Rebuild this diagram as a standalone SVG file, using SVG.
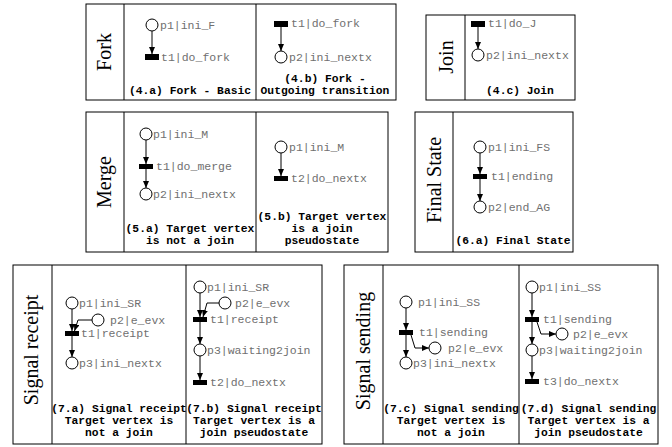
<svg xmlns="http://www.w3.org/2000/svg" width="672" height="447" viewBox="0 0 672 447">
<defs>
<marker id="ah" markerWidth="7" markerHeight="6" refX="7" refY="3" orient="auto" markerUnits="userSpaceOnUse"><path d="M0,0 L7,3 L0,6 z" fill="#000"/></marker>
<style>
.box{fill:#fff;stroke:#000;stroke-width:1}
.div{stroke:#000;stroke-width:1}
.pl{fill:#fff;stroke:#000;stroke-width:1}
.tr{fill:#000}
.lb{font-family:"Liberation Mono",monospace;font-size:11.5px;fill:#707070}
.cap{font-family:"Liberation Mono",monospace;font-size:11.3px;font-weight:bold;fill:#000;text-anchor:middle}
.cat{font-family:"Liberation Serif",serif;font-size:20px;fill:#000;text-anchor:middle}
.arc{fill:none;stroke:#000;stroke-width:1;marker-end:url(#ah)}
</style>
</defs>
<rect width="672" height="447" fill="#fff"/>

<g id="box-fork">
<rect class="box" x="86" y="4" width="310" height="96"/>
<line class="div" x1="124" y1="4" x2="124" y2="100"/>
<line class="div" x1="256" y1="4" x2="256" y2="100"/>
<text class="cat" transform="translate(104,52) rotate(-90)" y="7">Fork</text>
<text class="cap" x="190" y="94">(4.a) Fork - Basic</text>
<text class="cap" x="325" y="82">(4.b) Fork -</text>
<text class="cap" x="325" y="94">Outgoing transition</text>
</g>
<g id="box-join">
<rect class="box" x="426" y="15" width="149" height="85"/>
<line class="div" x1="465" y1="15" x2="465" y2="100"/>
<text class="cat" transform="translate(446,57) rotate(-90)" y="7">Join</text>
<text class="cap" x="520" y="94">(4.c) Join</text>
</g>
<g id="box-merge">
<rect class="box" x="86" y="112" width="302" height="140"/>
<line class="div" x1="124" y1="112" x2="124" y2="252"/>
<line class="div" x1="256" y1="112" x2="256" y2="252"/>
<text class="cat" transform="translate(104,182) rotate(-90)" y="7">Merge</text>
<text class="cap" x="190" y="232">(5.a) Target vertex</text>
<text class="cap" x="190" y="244">is not a join</text>
<text class="cap" x="322" y="220">(5.b) Target vertex</text>
<text class="cap" x="322" y="232">is a join</text>
<text class="cap" x="322" y="244">pseudostate</text>
</g>
<g id="box-final">
<rect class="box" x="415" y="112" width="158" height="140"/>
<line class="div" x1="453" y1="112" x2="453" y2="252"/>
<text class="cat" transform="translate(434,180) rotate(-90)" y="7">Final State</text>
<text class="cap" x="513" y="244">(6.a) Final State</text>
</g>
<g id="box-receipt">
<rect class="box" x="13" y="265" width="309" height="179"/>
<line class="div" x1="52" y1="265" x2="52" y2="444"/>
<line class="div" x1="186" y1="265" x2="186" y2="444"/>
<text class="cat" transform="translate(31,350) rotate(-90)" y="7">Signal receipt</text>
<text class="cap" x="119" y="412">(7.a) Signal receipt</text>
<text class="cap" x="119" y="424">Target vertex is</text>
<text class="cap" x="119" y="436">not a join</text>
<text class="cap" x="254" y="412">(7.b) Signal receipt</text>
<text class="cap" x="254" y="424">Target vertex is a</text>
<text class="cap" x="254" y="436">join pseudostate</text>
</g>
<g id="box-sending">
<rect class="box" x="344" y="265" width="314" height="179"/>
<line class="div" x1="383" y1="265" x2="383" y2="444"/>
<line class="div" x1="519" y1="265" x2="519" y2="444"/>
<text class="cat" transform="translate(363,351) rotate(-90)" y="7">Signal sending</text>
<text class="cap" x="451" y="412">(7.c) Signal sending</text>
<text class="cap" x="451" y="424">Target vertex is</text>
<text class="cap" x="451" y="436">not a join</text>
<text class="cap" x="588.5" y="412">(7.d) Signal sending</text>
<text class="cap" x="588.5" y="424">Target vertex is a</text>
<text class="cap" x="588.5" y="436">join pseudostate</text>
</g>

<g id="connectors">
<path class="arc" d="M152 31 V54"/>
<path class="arc" d="M281 27 V51"/>
<path class="arc" d="M478 27 V49"/>
<path class="arc" d="M146 140 V164"/>
<path class="arc" d="M146 169 V188"/>
<path class="arc" d="M281 153 V176"/>
<path class="arc" d="M480 153 V174"/>
<path class="arc" d="M480 179 V201"/>
<path class="arc" d="M72 309 V331"/>
<path class="arc" d="M92 320 H78 L74.5 331"/>
<path class="arc" d="M72 336 V357"/>
<path class="arc" d="M200 293 V317"/>
<path class="arc" d="M219 303 H207 L203 317"/>
<path class="arc" d="M200 322 V344"/>
<path class="arc" d="M200 356 V380"/>
<path class="arc" d="M406 308 V330"/>
<path class="arc" d="M406 335 V357"/>
<path class="arc" d="M411 335 L415 348 H429"/>
<path class="arc" d="M532 293 V317"/>
<path class="arc" d="M532 322 V344"/>
<path class="arc" d="M537 322 L541 334 H556"/>
<path class="arc" d="M532 356 V379"/>
</g>

<g id="n4a-p1"><circle class="pl" cx="152" cy="25" r="6"/><text class="lb" x="160" y="29">p1|ini_F</text></g>
<g id="n4a-t1"><rect class="tr" x="145" y="54" width="14" height="6"/><text class="lb" x="161" y="60.5">t1|do_fork</text></g>
<g id="n4b-t1"><rect class="tr" x="274" y="21" width="14" height="6"/><text class="lb" x="291" y="27">t1|do_fork</text></g>
<g id="n4b-p2"><circle class="pl" cx="281" cy="57" r="6"/><text class="lb" x="289" y="61">p2|ini_nextx</text></g>
<g id="n4c-t1"><rect class="tr" x="471" y="21" width="14" height="6"/><text class="lb" x="488" y="27">t1|do_J</text></g>
<g id="n4c-p2"><circle class="pl" cx="478" cy="55" r="6"/><text class="lb" x="486" y="59">p2|ini_nextx</text></g>

<g id="n5a-p1"><circle class="pl" cx="146" cy="134" r="6"/><text class="lb" x="153" y="138">p1|ini_M</text></g>
<g id="n5a-t1"><rect class="tr" x="139" y="164" width="14" height="5"/><text class="lb" x="156" y="169.5">t1|do_merge</text></g>
<g id="n5a-p2"><circle class="pl" cx="146" cy="194" r="6"/><text class="lb" x="153" y="198">p2|ini_nextx</text></g>
<g id="n5b-p1"><circle class="pl" cx="281" cy="147" r="6"/><text class="lb" x="289" y="151">p1|ini_M</text></g>
<g id="n5b-t2"><rect class="tr" x="274" y="176" width="14" height="5"/><text class="lb" x="291" y="182">t2|do_nextx</text></g>

<g id="n6a-p1"><circle class="pl" cx="480" cy="147" r="6"/><text class="lb" x="488" y="151">p1|ini_FS</text></g>
<g id="n6a-t1"><rect class="tr" x="473" y="174" width="14" height="5"/><text class="lb" x="491" y="180">t1|ending</text></g>
<g id="n6a-p2"><circle class="pl" cx="480" cy="207" r="6"/><text class="lb" x="488" y="211">p2|end_AG</text></g>

<g id="n7a-p1"><circle class="pl" cx="72" cy="303" r="6"/><text class="lb" x="79" y="307">p1|ini_SR</text></g>
<g id="n7a-p2"><circle class="pl" cx="98" cy="320" r="6"/><text class="lb" x="110" y="324">p2|e_evx</text></g>
<g id="n7a-t1"><rect class="tr" x="65" y="331" width="14" height="5"/><text class="lb" x="81" y="337">t1|receipt</text></g>
<g id="n7a-p3"><circle class="pl" cx="72" cy="363" r="6"/><text class="lb" x="79" y="367">p3|ini_nextx</text></g>

<g id="n7b-p1"><circle class="pl" cx="200" cy="287" r="6"/><text class="lb" x="207" y="291">p1|ini_SR</text></g>
<g id="n7b-p2"><circle class="pl" cx="225" cy="303" r="6"/><text class="lb" x="235" y="307">p2|e_evx</text></g>
<g id="n7b-t1"><rect class="tr" x="193" y="317" width="14" height="5"/><text class="lb" x="210" y="323">t1|receipt</text></g>
<g id="n7b-p3"><circle class="pl" cx="200" cy="350" r="6"/><text class="lb" x="207" y="354">p3|waiting2join</text></g>
<g id="n7b-t2"><rect class="tr" x="193" y="380" width="14" height="5"/><text class="lb" x="210" y="386">t2|do_nextx</text></g>

<g id="n7c-p1"><circle class="pl" cx="406" cy="302" r="6"/><text class="lb" x="418" y="306">p1|ini_SS</text></g>
<g id="n7c-t1"><rect class="tr" x="399" y="330" width="14" height="5"/><text class="lb" x="419" y="336">t1|sending</text></g>
<g id="n7c-p2"><circle class="pl" cx="435" cy="348" r="6"/><text class="lb" x="448" y="352">p2|e_evx</text></g>
<g id="n7c-p3"><circle class="pl" cx="406" cy="363" r="6"/><text class="lb" x="413" y="367">p3|ini_nextx</text></g>

<g id="n7d-p1"><circle class="pl" cx="532" cy="287" r="6"/><text class="lb" x="539" y="291">p1|ini_SS</text></g>
<g id="n7d-t1"><rect class="tr" x="525" y="317" width="14" height="5"/><text class="lb" x="543" y="323">t1|sending</text></g>
<g id="n7d-p2"><circle class="pl" cx="562" cy="334" r="6"/><text class="lb" x="573" y="338">p2|e_evx</text></g>
<g id="n7d-p3"><circle class="pl" cx="532" cy="350" r="6"/><text class="lb" x="539" y="354">p3|waiting2join</text></g>
<g id="n7d-t3"><rect class="tr" x="525" y="379" width="14" height="5"/><text class="lb" x="543" y="385">t3|do_nextx</text></g>
</svg>
